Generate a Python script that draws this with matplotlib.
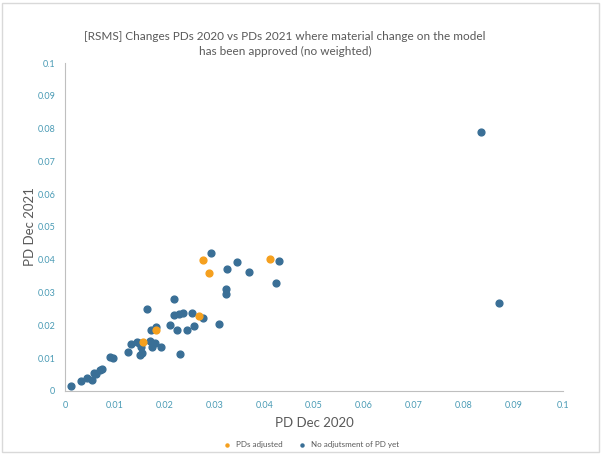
import numpy as np
import matplotlib
matplotlib.use("Agg")
import matplotlib.pyplot as plt
from matplotlib.patches import Rectangle

plt.rcParams['font.family'] = ['Lato', 'DejaVu Sans']

# PDs adjusted (orange)
adj_x = [0.0157, 0.0182, 0.0270, 0.0278, 0.0290, 0.0412]
adj_y = [0.0148, 0.0185, 0.0228, 0.0399, 0.0360, 0.0402]

# no adjustment of PD yet (blue)
no_x = [0.0013, 0.0032, 0.0044, 0.0054, 0.0059, 0.0062, 0.0071, 0.0074, 0.0090, 0.0096,
        0.0127, 0.0132, 0.0145, 0.0149, 0.0153, 0.0150, 0.0155, 0.0165, 0.0170, 0.0173,
        0.0175, 0.0180, 0.0183, 0.0193, 0.0211, 0.0218, 0.0218, 0.0224, 0.0228, 0.0230,
        0.0237, 0.0246, 0.0256, 0.0260, 0.0278, 0.0293, 0.0309, 0.0324, 0.0323, 0.0325,
        0.0345, 0.0369, 0.0430, 0.0423, 0.0835, 0.0872]
no_y = [0.0015, 0.0030, 0.0040, 0.0034, 0.0054, 0.0051, 0.0063, 0.0067, 0.0103, 0.0099,
        0.0118, 0.0142, 0.0150, 0.0147, 0.0133, 0.0109, 0.0116, 0.0250, 0.0153, 0.0187,
        0.0133, 0.0147, 0.0194, 0.0135, 0.0200, 0.0280, 0.0233, 0.0187, 0.0234, 0.0112,
        0.0239, 0.0185, 0.0238, 0.0199, 0.0222, 0.0422, 0.0205, 0.0311, 0.0296, 0.0371,
        0.0393, 0.0363, 0.0396, 0.0328, 0.0791, 0.0267]

ticks = [0, 0.01, 0.02, 0.03, 0.04, 0.05, 0.06, 0.07, 0.08, 0.09, 0.1]
tick_labels = ['0', '0.01', '0.02', '0.03', '0.04', '0.05', '0.06', '0.07', '0.08', '0.09', '0.1']

orange = '#F5A01E'
blue = '#3A6F96'
tick_col = '#4A9BB5'
text_col = '#595959'

fig = plt.figure(figsize=(6.01, 4.54), dpi=100)
ax = fig.add_axes([0.108, 0.139, 0.829, 0.722])

sc_no = ax.scatter(no_x, no_y, s=24, color=blue, label='No adjutsment of PD yet', zorder=3)
sc_adj = ax.scatter(adj_x, adj_y, s=24, color=orange, label='PDs adjusted', zorder=4)

ax.set_xlim(0, 0.1)
ax.set_ylim(0, 0.1)
ax.set_xticks(ticks)
ax.set_xticklabels(tick_labels)
ax.set_yticks(ticks)
ax.set_yticklabels(tick_labels)
ax.tick_params(length=0, labelsize=6.5, colors=tick_col, pad=7)

for s in ['top', 'right']:
    ax.spines[s].set_visible(False)
for s in ['left', 'bottom']:
    ax.spines[s].set_color('#BFBFBF')
    ax.spines[s].set_linewidth(0.8)

ax.set_xlabel('PD Dec 2020', fontsize=9.5, color=text_col, labelpad=5)
ax.set_ylabel('PD Dec 2021', fontsize=9.5, color=text_col, labelpad=1)

fig.text(0.474, 0.903,
         '[RSMS] Changes PDs 2020 vs PDs 2021 where material change on the model\nhas been approved (no weighted)',
         ha='center', va='center', fontsize=8.5, color=text_col, linespacing=1.45)

leg = ax.legend([sc_adj, sc_no], ['PDs adjusted', 'No adjutsment of PD yet'],
                loc='upper center', bbox_to_anchor=(0.49, -0.13), ncol=2, frameon=False,
                fontsize=5.8, markerscale=0.45, handletextpad=0.05, columnspacing=1.5)
for t in leg.get_texts():
    t.set_color(text_col)

fig.patches.append(Rectangle((0.003, 0.004), 0.994, 0.99, transform=fig.transFigure,
                             fill=False, edgecolor='#D9D9D9', linewidth=1))

fig.savefig('out.png', dpi=100)
